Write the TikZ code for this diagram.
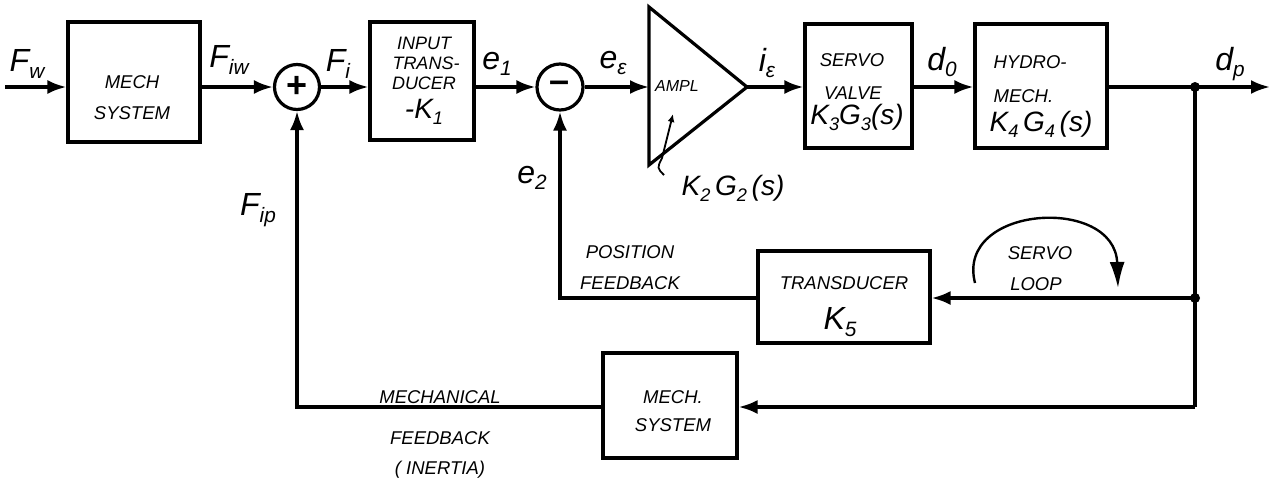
\documentclass[tikz,border=0pt]{standalone}
\usepackage{fontspec}
\setmainfont{Liberation Sans}
\usetikzlibrary{arrows.meta}
\newcommand\sbs[1]{\raisebox{-0.4ex}{\scalebox{0.65}{#1}}}
\begin{document}
\begin{tikzpicture}[x=1pt,y=-1pt, line width=3.2pt,
 blk/.style={draw, rectangle, inner sep=0pt},
 sum/.style={draw, circle, minimum size=45pt, inner sep=0pt},
 sig/.style={font=\itshape\fontsize{32}{32}\selectfont, inner sep=0pt},
 gain/.style={font=\itshape\fontsize{28}{28}\selectfont, inner sep=0pt},
 lbl/.style={font=\itshape\fontsize{18.5}{20}\selectfont, inner sep=0pt},
 arr/.style={-{Latex[length=19pt,width=14pt]}},
 dot/.style={circle, fill, inner sep=0pt, minimum size=10pt}]
\useasboundingbox (0,0) rectangle (1271,480);

% blocks
\node[blk, minimum width=132pt, minimum height=120pt] (mech1) at (134,82) {};
\node[lbl] (mech1a) at (132,82) {MECH};
\node[lbl] (mech1b) at (132,113) {SYSTEM};
\node[sum] (plus) at (297,87) {\fontsize{36}{36}\selectfont\bfseries +};
\node[blk, minimum width=104pt, minimum height=118pt] (intr) at (422,81) {};
\node[lbl, font=\itshape\fontsize{18}{18}\selectfont] (intra) at (424,43) {INPUT};
\node[lbl, font=\itshape\fontsize{18}{18}\selectfont] (intrb) at (426,63) {TRANS-};
\node[lbl, font=\itshape\fontsize{18}{18}\selectfont] (intrc) at (424,83) {DUCER};
\node[gain] (intrk) at (424,112) {-K\sbs{1}};
\node[sum, minimum size=46pt] (minus) at (560,87) {\fontsize{36}{36}\selectfont\bfseries --};
\coordinate (ampin) at (649,87);
\coordinate (ampout) at (747,87);
\draw (649,7) -- (649,165) -- (ampout) -- cycle;
\node[lbl, font=\itshape\fontsize{16}{18}\selectfont] (ampl) at (677,86) {AMPL};
\node[blk, minimum width=107pt, minimum height=124pt] (servo) at (858.5,86) {};
\node[lbl] (servoa) at (852,60) {SERVO};
\node[lbl] (servob) at (853,93) {VALVE};
\node[gain] (servok) at (857,117) {K\sbs{3}G\sbs{3}(s)};
\node[blk, minimum width=132pt, minimum height=124pt] (hydro) at (1041,86) {};
\node[lbl, anchor=west] (hydroa) at (992,62) {HYDRO-};
\node[lbl, anchor=west] (hydrob) at (992,96) {MECH.};
\node[gain] (hydrok) at (1041,124) {K\sbs{4}\,G\sbs{4}\,(s)};
\node[blk, minimum width=172pt, minimum height=92pt] (trans) at (844,297) {};
\node[lbl] (transa) at (844,283) {TRANSDUCER};
\node[gain, font=\itshape\fontsize{32}{32}\selectfont] (transk) at (840,322) {K\sbs{5}};
\node[blk, minimum width=134pt, minimum height=105pt] (mech2) at (670,405.5) {};
\node[lbl] (mech2a) at (673,397) {MECH.};
\node[lbl] (mech2b) at (673,425) {SYSTEM};

% signal labels
\node[sig] (lfw) at (27,64) {F\sbs{w}};
\node[sig] (lfiw) at (229,60) {F\sbs{iw}};
\node[sig] (lfi) at (338,64) {F\sbs{i}};
\node[sig] (le1) at (497,64) {e\sbs{1}};
\node[sig] (lee) at (613,63) {e\sbs{ε}};
\node[sig] (lie) at (767,63) {i\sbs{ε}};
\node[sig] (ld0) at (942,62) {d\sbs{0}};
\node[sig] (ldp) at (1230,64) {d\sbs{p}};
\node[sig] (le2) at (532,178) {e\sbs{2}};
\node[sig] (lfip) at (258,210) {F\sbs{ip}};
\node[gain] (lk2) at (733,188) {K\sbs{2}\,G\sbs{2}\,(s)};

% other labels
\node[lbl] (lpos) at (630,252) {POSITION};
\node[lbl] (lpfb) at (630,283) {FEEDBACK};
\node[lbl] (lserv) at (1040,253) {SERVO};
\node[lbl] (lloop) at (1036,284) {LOOP};
\node[lbl] (lmech) at (440,397) {MECHANICAL};
\node[lbl] (lmfb) at (440,438) {FEEDBACK};
\node[lbl] (linr) at (440,470) {( INERTIA)};

% forward path
\coordinate (in) at (5,87);
\coordinate (out) at (1270,87);
\coordinate (j1) at (1195,87);
\coordinate (j2) at (1195,298);
\coordinate (j3) at (1195,407);
\draw[arr] (in) -- (mech1.west|-in);
\draw[arr] (mech1.east|-plus) -- (plus.west);
\draw[arr] (plus.east) -- (intr.west|-plus);
\draw[arr] (intr.east|-minus) -- (minus.west);
\draw[arr] (minus.east) -- (ampin);
\draw[arr] (ampout) -- (servo.west|-ampout);
\draw[arr] (servo.east|-ampout) -- (hydro.west|-ampout);
\draw[arr] (hydro.east|-ampout) -- (out);
\node[dot] (d1) at (j1) {};
\node[dot] (d2) at (j2) {};

% feedback
\draw (j1) -- (j3);
\draw[arr] (j2) -- (trans.east|-j2);
\draw[arr] (trans.west|-j2) -- (minus|-j2) -- (minus.south);
\draw[arr] (j3) -- (mech2.east|-j3);
\draw[arr] (mech2.west|-j3) -- (plus|-j3) -- (plus.south);

% gain adjust arrow in amplifier
\draw[line width=1.8pt, -{Latex[length=8pt,width=7pt]}] (664,175) .. controls (657,168) .. (662,158) -- (673,114);

% servo loop arc
\draw[line width=2.4pt, -{Latex[length=26pt,width=15pt]}] (975,283) .. controls (955,205) and (1115,195) .. (1118,288);
\end{tikzpicture}
\end{document}
